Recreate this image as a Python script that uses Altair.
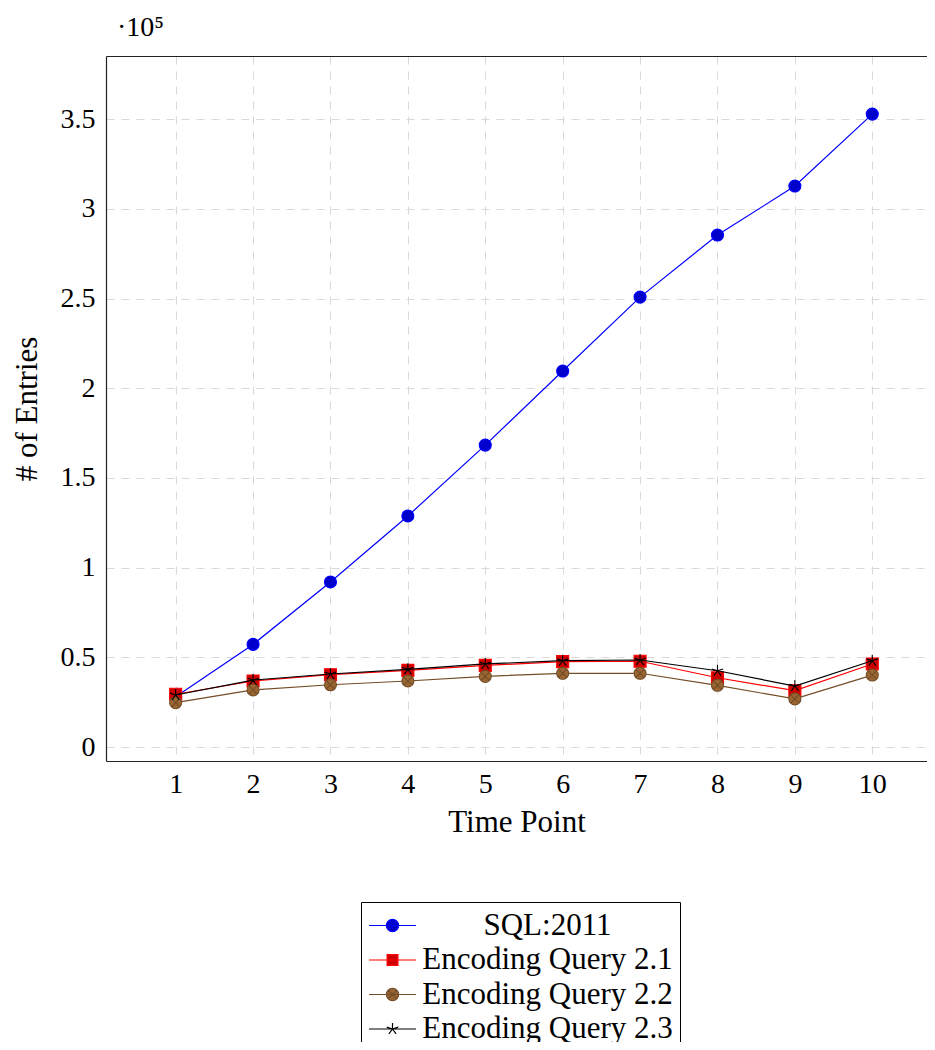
import altair as alt
import pandas as pd

time_points = [1, 2, 3, 4, 5, 6, 7, 8, 9, 10]
series_names = ["SQL:2011", "Encoding Query 2.1", "Encoding Query 2.2", "Encoding Query 2.3"]
# values in units of 10^5 entries (axis shows the ·10^5 multiplier)
sql_2011 = [0.280, 0.572, 0.920, 1.288, 1.683, 2.096, 2.508, 2.854, 3.127, 3.528]
enc_query_21 = [0.294, 0.368, 0.403, 0.427, 0.455, 0.476, 0.478, 0.386, 0.314, 0.463]
enc_query_22 = [0.247, 0.318, 0.347, 0.368, 0.394, 0.411, 0.411, 0.344, 0.268, 0.401]
enc_query_23 = [0.290, 0.373, 0.407, 0.433, 0.463, 0.481, 0.485, 0.425, 0.340, 0.481]
y_tick_values = [0, 0.5, 1, 1.5, 2, 2.5, 3, 3.5]

line_colors = ["#0000ff", "#ff0000", "#734d26", "#000000"]
marker_fills = ["#0000cc", "#cc0000", "#996633", "transparent"]
marker_strokes = ["#0000ff", "#ff0000", "#734d26", "#000000"]

marker_paths = [
    "M-1,0A1,1,0,1,1,1,0A1,1,0,1,1,-1,0Z",
    "M-1,-1L1,-1L1,1L-1,1Z",
    "M-1,0A1,1,0,1,1,1,0A1,1,0,1,1,-1,0ZM-0.7,-0.7L0.7,0.7M-0.7,0.7L0.7,-0.7",
    "M0,0L0,-1M0,0L0.951,-0.309M0,0L0.588,0.809M0,0L-0.588,0.809M0,0L-0.951,-0.309",
]
r = 0.26
legend_paths = [
    f"M-1,0L1,0M-{r},0A{r},{r},0,1,1,{r},0A{r},{r},0,1,1,-{r},0Z",
    "M-1,0L1,0M-0.23,-0.23L0.23,-0.23L0.23,0.23L-0.23,0.23Z",
    f"M-1,0L1,0M-{r},0A{r},{r},0,1,1,{r},0A{r},{r},0,1,1,-{r},0ZM-0.18,-0.18L0.18,0.18M-0.18,0.18L0.18,-0.18",
    "M-1,0L1,0M0,0L0,-0.26M0,0L0.247,-0.08M0,0L0.153,0.21M0,0L-0.153,0.21M0,0L-0.247,-0.08",
]

rows = []
for name, vals in zip(series_names, [sql_2011, enc_query_21, enc_query_22, enc_query_23]):
    for t, v in zip(time_points, vals):
        rows.append({"Time Point": t, "Entries": v, "series": name})
df = pd.DataFrame(rows)

legend = alt.Legend(
    title=None,
    orient="none",
    legendX=255,
    legendY=846,
    direction="vertical",
    strokeColor="black",
    fillColor="white",
    padding=7,
    cornerRadius=0,
    symbolSize=2209,
    symbolOffset=0,
    symbolOpacity=1,
    symbolStrokeWidth=1.2,
    labelAlign="center",
    labelOffset=130.5,
    labelFont="Liberation Serif",
    labelFontSize=31,
    labelColor="black",
    labelLimit=0,
    clipHeight=33,
    rowPadding=1.5,
)

x_scale = alt.Scale(domain=[0.1, 10.707], nice=False, zero=False)
y_scale = alt.Scale(domain=[-0.078, 3.852], nice=False, zero=False)

x_axis = alt.Axis(
    values=time_points, title="Time Point", grid=True, ticks=False, tickSize=0,
    labelPadding=9, titlePadding=9, labelFlush=False, orient="bottom",
)
x_top_axis = alt.Axis(
    orient="top", labels=False, ticks=False, grid=False, title=None, domain=True,
)
y_axis = alt.Axis(
    values=y_tick_values, title="# of Entries", grid=True, ticks=False, tickSize=0,
    labelPadding=11, titlePadding=17, labelFlush=False, orient="left", format="~g",
)

legend_layer = alt.Chart(df).mark_point(opacity=0).encode(
    x=alt.X("Time Point:Q", scale=x_scale, axis=x_axis),
    y=alt.Y("Entries:Q", scale=y_scale, axis=y_axis),
    shape=alt.Shape("series:N", scale=alt.Scale(domain=series_names, range=legend_paths), legend=legend),
    fill=alt.Fill("series:N", scale=alt.Scale(domain=series_names, range=marker_fills), legend=legend),
    stroke=alt.Stroke("series:N", scale=alt.Scale(domain=series_names, range=marker_strokes), legend=legend),
)
layers = [legend_layer]

for i, name in enumerate(series_names):
    base = alt.Chart(df).transform_filter(alt.datum.series == name)
    line = base.mark_line(strokeWidth=1.2, color=line_colors[i]).encode(
        x=alt.X("Time Point:Q", scale=x_scale, axis=x_top_axis if i == 0 else None),
        y=alt.Y("Entries:Q", scale=y_scale, axis=None),
    )
    pts = base.mark_point(
        size=144, strokeWidth=1.1, opacity=1,
        shape=marker_paths[i], fill=marker_fills[i], stroke=marker_strokes[i],
    ).encode(
        x=alt.X("Time Point:Q", scale=x_scale, axis=None),
        y=alt.Y("Entries:Q", scale=y_scale, axis=None),
    )
    layers += [line, pts]

chart = (
    alt.layer(*layers)
    .resolve_axis(x="independent", y="independent")
    .properties(
        width=821,
        height=705,
        autosize=alt.AutoSizeParams(type="none"),
        padding={"left": 98, "top": 48, "right": 0, "bottom": 281},
        title=alt.TitleParams(
            text="·10⁵", anchor="start", frame="group", dx=11, offset=14,
            font="Liberation Serif", fontSize=28, fontWeight="normal", color="black",
        ),
        background="white",
    )
    .configure_view(stroke=None)
    .configure_axis(
        labelFont="Liberation Serif",
        labelFontSize=28,
        labelColor="black",
        titleFont="Liberation Serif",
        titleFontSize=31,
        titleFontWeight="normal",
        titleColor="black",
        gridColor="#d9d9d9",
        gridDash=[8, 7],
        gridWidth=1,
        domainColor="#222222",
        domainWidth=1.2,
    )
)

chart.save("out.html", embed_options={"renderer": "svg", "actions": False})
